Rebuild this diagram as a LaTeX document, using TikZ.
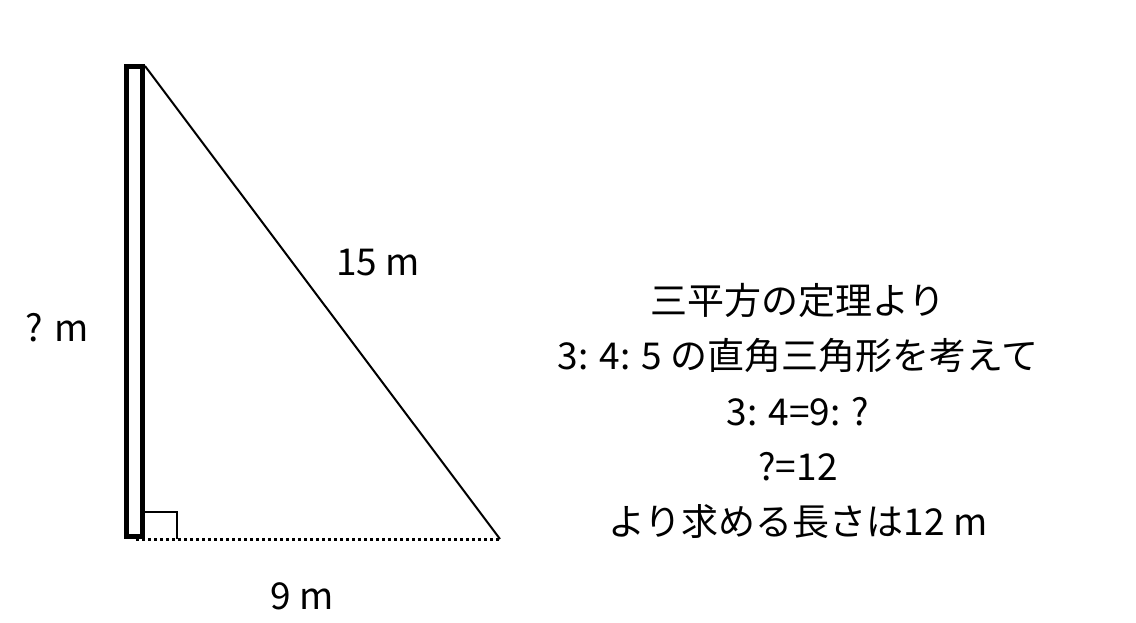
\documentclass[tikz,border=0pt]{standalone}
\usepackage{fontspec}
\setmainfont{Noto Sans CJK JP}
\usetikzlibrary{calc}
\tikzset{lbl/.style={inner sep=0pt, font=\fontsize{37}{44}\selectfont}}
\tikzset{pole/.style={draw, line width=5pt}}
\tikzset{side/.style={draw, line width=2pt}}
\tikzset{base/.style={draw, line width=3pt, dash pattern=on 3pt off 3pt}}
\begin{document}
\begin{tikzpicture}[x=1pt,y=-1pt]
		\useasboundingbox (0,0) rectangle (1136,622);
		
		\coordinate (top) at (145,66);
		\coordinate (foot) at (145,539);
		\coordinate (end) at (500,539);
		\coordinate (start) at (136,539);
		
		\path[pole] (126,66) rectangle (142,536);
		\path[side] (top) -- (end);
		\path[base] (start) -- (end);
		\draw[line width=1.5pt] ($(foot)+(0,-27)$) -- ++(32,0) -- ++(0,27);
		
		\node[lbl] (h) at (57,328) {? m};
		\node[lbl] (c) at (378,263) {15 m};
		\node[lbl] (b) at (302,596) {9 m};
		
		\node[lbl, align=center, font=\fontsize{37}{55.3}\selectfont] (txt) at (798,411) {三平方の定理より\\3: 4: 5 の直角三角形を考えて\\3: 4=9: ?\\?=12\\より求める長さは12 m};
		
		\end{tikzpicture}
\end{document}
